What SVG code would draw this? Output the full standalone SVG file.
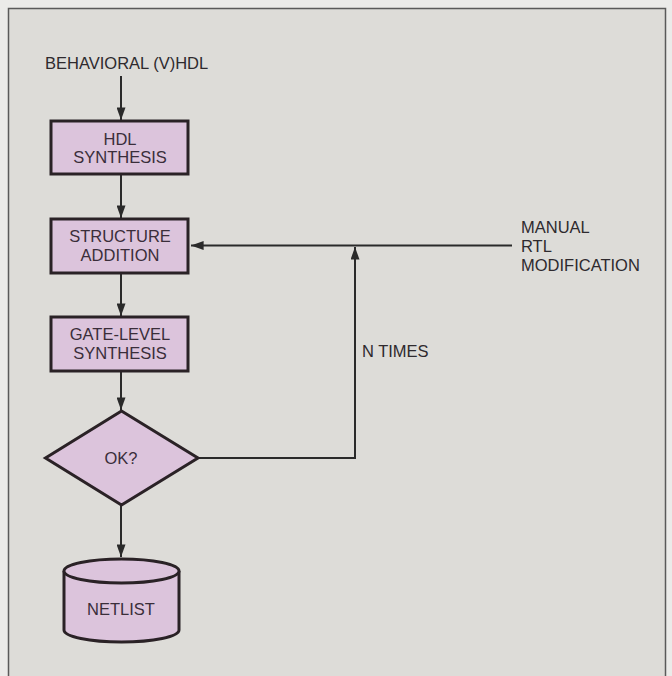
<svg xmlns="http://www.w3.org/2000/svg" width="672" height="676" viewBox="0 0 672 676">
<style>
.bg{fill:#ebebe9}
.frame{fill:#dddcd8;stroke:#5a5a5a;stroke-width:1.5}
.box{fill:#dcc4dc;stroke:#2a2226;stroke-width:3}
.conn{fill:none;stroke:#2a2a2a;stroke-width:2}
.lbl{font-family:"Liberation Sans",Arial,sans-serif;font-size:16.5px;fill:#2e2a2e}
.btx{font-family:"Liberation Sans",Arial,sans-serif;font-size:16.5px;fill:#3a2e3a;text-anchor:middle}
</style>
<defs>
<marker id="arr" viewBox="0 0 14 10" refX="14" refY="5" markerWidth="14" markerHeight="9" markerUnits="userSpaceOnUse" orient="auto">
<path d="M0,0 L14,5 L0,10 Z" fill="#2a2a2a"/>
</marker>
</defs>
<rect class="bg" x="0" y="0" width="672" height="676"/>
<rect class="frame" x="8.5" y="8.5" width="657" height="700"/>
<text class="lbl" x="45" y="69">BEHAVIORAL (V)HDL</text>
<g id="connectors">
<line class="conn" x1="121" y1="76" x2="121" y2="120" marker-end="url(#arr)"/>
<line class="conn" x1="121" y1="174" x2="121" y2="218" marker-end="url(#arr)"/>
<line class="conn" x1="121" y1="273" x2="121" y2="316" marker-end="url(#arr)"/>
<line class="conn" x1="121" y1="371" x2="121" y2="410" marker-end="url(#arr)"/>
<line class="conn" x1="121" y1="505" x2="121" y2="557" marker-end="url(#arr)"/>
<polyline class="conn" points="198,458 355,458 355,247" marker-end="url(#arr)"/>
<line class="conn" x1="512" y1="245.5" x2="191" y2="245.5" marker-end="url(#arr)"/>
</g>
<g id="hdl-synthesis">
<rect class="box" x="51" y="121" width="137" height="53"/>
<text class="btx" x="120" y="145">HDL</text>
<text class="btx" x="120" y="163">SYNTHESIS</text>
</g>
<g id="structure-addition">
<rect class="box" x="51" y="219" width="137" height="54"/>
<text class="btx" x="120" y="242">STRUCTURE</text>
<text class="btx" x="120" y="261">ADDITION</text>
</g>
<g id="gate-level-synthesis">
<rect class="box" x="51" y="317" width="137" height="54"/>
<text class="btx" x="120" y="340">GATE-LEVEL</text>
<text class="btx" x="120" y="359">SYNTHESIS</text>
</g>
<g id="ok">
<polygon class="box" points="121.5,411 198,458 121.5,505 45.5,458"/>
<text class="btx" x="121" y="464">OK?</text>
</g>
<g id="netlist">
<path class="box" d="M64,571 A57.5,12 0 0 1 179,571 L179,630 A57.5,12 0 0 1 64,630 Z"/>
<path class="box" d="M64,571 A57.5,12 0 0 0 179,571" fill="none"/>
<text class="btx" x="121" y="615">NETLIST</text>
</g>
<g id="labels">
<text class="lbl" x="521" y="233">MANUAL</text>
<text class="lbl" x="521" y="252">RTL</text>
<text class="lbl" x="521" y="271">MODIFICATION</text>
<text class="lbl" x="362" y="357">N TIMES</text>
</g>
</svg>
